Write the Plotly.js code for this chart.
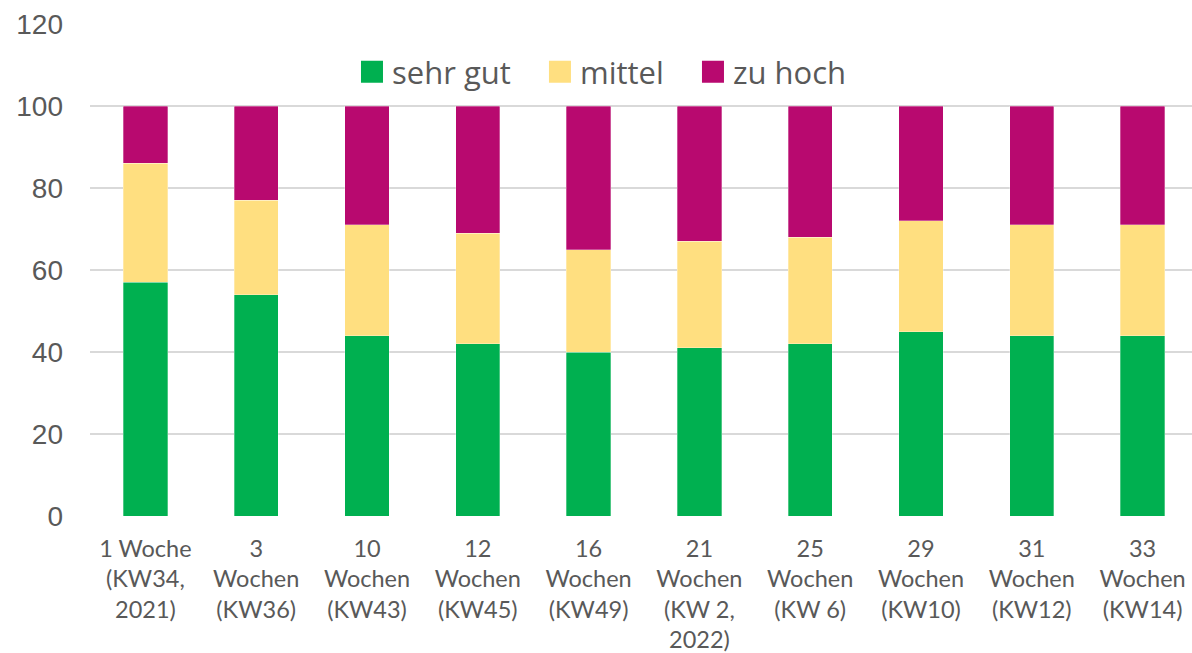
<!DOCTYPE html>
<html>
<head>
<meta charset="utf-8">
<script src="https://cdn.plot.ly/plotly-3.0.1.min.js"></script>
<style>html,body{margin:0;padding:0;background:#fff;}#chart{width:1192px;height:653px;}</style>
</head>
<body>
<div id="chart"></div>
<script>
const categories = [
  "1 Woche<br>(KW34,<br>2021)",
  "3<br>Wochen<br>(KW36)",
  "10<br>Wochen<br>(KW43)",
  "12<br>Wochen<br>(KW45)",
  "16<br>Wochen<br>(KW49)",
  "21<br>Wochen<br>(KW 2,<br>2022)",
  "25<br>Wochen<br>(KW 6)",
  "29<br>Wochen<br>(KW10)",
  "31<br>Wochen<br>(KW12)",
  "33<br>Wochen<br>(KW14)"
];
const sehrGut = [57, 54, 44, 42, 40, 41, 42, 45, 44, 44];
const mittel  = [29, 23, 27, 27, 25, 26, 26, 27, 27, 27];
const zuHoch  = [14, 23, 29, 31, 35, 33, 32, 28, 29, 29];
const seriesNames = ["sehr gut", "mittel", "zu hoch"];
const yTicks = [0, 20, 40, 60, 80, 100, 120];

const colors = ["#00B050", "#FFDF80", "#B8096F"];
const seriesData = [sehrGut, mittel, zuHoch];
const xIdx = categories.map((c, i) => i);
const pad = "\u00a0\u00a0\u00a0";

const traces = [];
seriesData.forEach((vals, k) => {
  traces.push({
    type: "bar",
    x: xIdx,
    y: vals,
    name: seriesNames[k],
    width: 0.4,
    marker: {color: colors[k], line: {width: 0.6, color: "rgba(255,255,255,0.5)"}},
    showlegend: false,
    hoverinfo: "y+name"
  });
});
seriesData.forEach((vals, k) => {
  traces.push({
    type: "scatter",
    mode: "markers",
    x: [null],
    y: [null],
    name: seriesNames[k] + (k < seriesData.length - 1 ? pad : ""),
    marker: {symbol: "square", size: 16, color: colors[k]},
    showlegend: true
  });
});

const layout = {
  width: 1192,
  height: 653,
  margin: {l: 90, r: 0, t: 24, b: 137},
  paper_bgcolor: "#ffffff",
  plot_bgcolor: "#ffffff",
  barmode: "stack",
  font: {family: "'Open Sans', sans-serif", color: "#595959"},
  xaxis: {
    range: [-0.5, 9.446],
    tickmode: "array",
    tickvals: xIdx,
    ticktext: categories,
    showgrid: false,
    zeroline: false,
    showline: false,
    ticks: "",
    tickfont: {size: 23.5, family: "Lato, sans-serif", color: "#595959"},
    ticklabelstandoff: 16,
    fixedrange: true
  },
  yaxis: {
    range: [0, 120],
    tickmode: "array",
    tickvals: yTicks,
    ticktext: yTicks.map(String),
    showgrid: true,
    gridcolor: "#D9D9D9",
    gridwidth: 1.3,
    zeroline: false,
    showline: false,
    ticks: "",
    tickfont: {size: 28, family: "'Liberation Sans', Arial, sans-serif", color: "#595959"},
    ticklabelstandoff: 26,
    fixedrange: true
  },
  legend: {
    orientation: "h",
    x: 0.4646,
    xanchor: "center",
    y: 0.902,
    yanchor: "middle",
    font: {size: 31, family: "'Open Sans', sans-serif", color: "#595959"},
    bgcolor: "rgba(255,255,255,0)",
    itemwidth: 30,
    traceorder: "normal"
  },
  showlegend: true
};

Plotly.newPlot("chart", traces, layout, {displayModeBar: false, staticPlot: true}).then(function (gd) {
  gd.querySelectorAll(".legend .legendpoints path").forEach(function (p) {
    const t = p.getAttribute("transform") || "";
    p.setAttribute("transform", t + " scale(1.375)");
  });
});
</script>
</body>
</html>
